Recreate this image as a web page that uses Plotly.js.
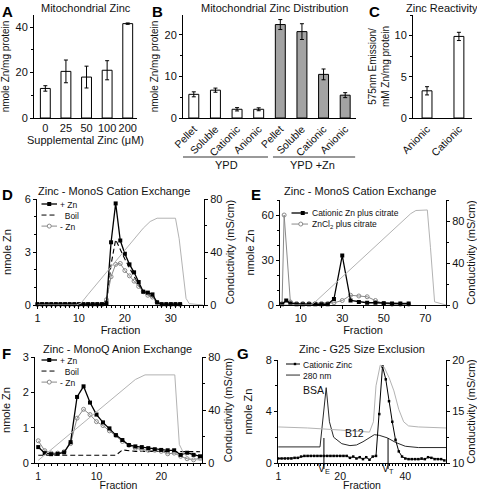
<!DOCTYPE html>
<html><head><meta charset="utf-8">
<script src="https://cdn.plot.ly/plotly-3.0.1.min.js"></script>
<style>html,body{margin:0;padding:0;background:#fff;}#chart{width:477px;height:491px;}</style>
</head><body><div id="chart"></div>
<script>
// ================= DATA =================
// Panel A
const aCategories = ['0', '25', '50', '100', '200'];
const aZinc = [13, 20.5, 18, 21, 41.5];
const aZincErr = [1.2, 5, 4.8, 4.2, 0.3];

// Panel B
const bFractions = ['Pellet', 'Soluble', 'Cationic', 'Anionic'];
const bGroups = ['YPD', 'YPD +Zn'];
const bYPD = [5.7, 6.7, 2.1, 2.1];
const bYPDErr = [0.6, 0.5, 0.4, 0.35];
const bYPDZn = [22.5, 20.8, 10.5, 5.5];
const bYPDZnErr = [1.2, 1.9, 1.3, 0.6];

// Panel C
const cCategories = ['Anionic', 'Cationic'];
const cReactivity = [3.3, 9.9];
const cReactivityErr = [0.5, 0.5];

// Panel D (MonoS cation exchange)
const dFraction = [1,2,3,4,5,6,7,8,9,10,11,12,13,14,15,16,17,18,19,20,21,22,23,24,25,26,27,28,29,30,31,32];
const dPlusZn  = [0.05,0.05,0.05,0.05,0.05,0.05,0.05,0.05,0.05,0.05,0.05,0.05,0.05,0.05,0.05,0.1,3.55,5.75,3.65,2.9,2.3,1.85,1.3,0.75,0.7,0.6,0.15,0.05,0.05,0.05,0.05,0.05];
const dBoil    = [0,0,0,0,0,0,0,0,0,0,0,0,0,0,0,0.05,2.3,3.7,3.1,2.6,2.1,1.6,1.15,0.75,0.55,0.45,0.1,0.02,0,0,0,0];
const dMinusZn = [0.03,0.03,0.03,0.03,0.03,0.03,0.03,0.03,0.03,0.03,0.03,0.03,0.03,0.03,0.03,0.3,1.6,2.3,2.35,1.95,1.65,1.35,1.05,0.75,0.55,0.45,0.15,0.03,0.03,0.03,0.03,0.03];
const dCondFraction = [1, 9.5, 10.5, 12, 24, 25.5, 27, 31, 31.8, 33.3, 34, 37];
const dConductivity = [0, 0, 1.5, 8, 58, 63, 65.5, 65.5, 50, 5, 1, 0];

// Panel E (MonoS, citrate)
const eFraction = [1,3,5,8,11,14,17,20,23,26,30,34,38,42,46,50,54,58,62];
const eCationicCitrate = [0.5,3,1,0.5,0.5,0.5,0.5,0.5,0.5,4,33,3,2,1.5,1.5,1.2,1,1,1];
const eZnClFraction = [1,2,5,8,11,14,17,20,23,26,30,34,38,42,46,50,54,58,62];
const eZnClCitrate = [1,60,2,1,1,1,1,1,1,1.5,3,6.5,6,5.5,3,1,0.5,0.5,0.5];
const eCondFraction = [0, 15, 17, 63, 65.5, 71, 72.5, 74.5, 80];
const eConductivity = [0, 0, 3, 87, 90, 90.5, 55, 3, 0];

// Panel F (MonoQ anion exchange)
const fFraction = [1,2,3,4,5,6,7,8,9,10,11,12,13,14,15,16,17,18,19,20,21,22,23,24,25,26];
const fPlusZn  = [0.45,0.28,0.25,0.26,0.3,0.59,1.87,2.17,1.71,1.37,1.15,0.98,0.79,0.65,0.51,0.47,0.45,0.42,0.39,0.37,0.36,0.36,0.23,0.29,0.23,0.19];
const fBoil    = [0.22,0.22,0.22,0.22,0.22,0.22,0.22,0.22,0.22,0.22,0.22,0.22,0.22,0.37,0.34,0.33,0.33,0.33,0.33,0.33,0.33,0.33,0.33,0.33,0.33,0.32];
const fMinusZn = [0.63,0.35,0.28,0.28,0.32,0.55,1.27,1.52,1.37,1.17,1.06,0.91,0.78,0.61,0.5,0.42,0.38,0.36,0.36,0.33,0.26,0.28,0.19,0.12,0.09,0.14];
const fCondFraction = [1, 14, 16, 17.5, 22.1, 22.8, 23.5, 24.5, 26.3];
const fConductivity = [2, 55, 63, 66.5, 66.5, 14, 7, 3, 2];

// Panel G (G25 size exclusion)
const gFraction = [1,2,3,4,5,6,7,8,9,10,11,12,13,14,15,16,17,18,19,20,21,22,23,24,25,26,27,28,29,30,31,32,33,34,35,36,37,38,39,40,41,42,43,44,45,46,47,48,49,50,51,52];
const gCationicZinc = [0.35,0.35,0.35,0.35,0.35,0.4,0.4,0.5,0.55,0.55,0.55,0.55,0.55,0.55,0.55,0.55,0.55,0.55,0.55,0.55,0.55,0.55,0.4,0.5,0.35,0.45,0.3,0.45,0.25,0.5,0.55,3.8,7.5,6.5,4.8,3.2,1.8,0.9,0.5,0.35,0.3,0.3,0.3,0.3,0.35,0.3,0.45,0.4,0.3,0.3,0.3,0.2];
const gAbsFraction = [1, 13.8, 15.7, 16.7, 18, 20.5, 23, 25, 27, 29, 30.5, 32, 34.5, 37, 40, 44, 52.5];
const gAbs280 = [1.25, 1.25, 5.85, 3.2, 2.0, 1.5, 1.35, 1.4, 1.65, 2.0, 2.2, 2.15, 1.95, 1.6, 1.3, 1.2, 1.2];
const gCondFraction = [1, 10, 20, 29, 30.2, 31, 32.3, 33.5, 35, 36.5, 38, 39.5, 41, 44, 52.5];
const gConductivity = [13.5, 13.4, 13.2, 13.0, 14, 17.5, 19.5, 19.3, 18.3, 17, 15.2, 14, 13.6, 13.5, 13.4];
const gVolumeMarks = [15, 34.7];
const gVolumeLabels = ['V<sub>E</sub>', 'V<sub>T</sub>'];
const gStandards = ['BSA', 'B12'];
const gStandardFraction = [11.8, 24.3];
const gStandardValue = [5.7, 2.35];

// ================= LAYOUT HELPERS =================
const W = 477, H = 491;
const px = v => v / W;
const py = v => 1 - v / H;
const FONT = '"Liberation Sans", Arial, sans-serif';
const BLACK = '#000';
const GREY = '#8a8a8a';
const LIGHT = '#b3b3b3';
const NB = '\u00A0';

function axis(extra) {
  return Object.assign({
    showgrid: false, zeroline: false, showline: true, linecolor: BLACK, linewidth: 1,
    ticks: 'outside', ticklen: 3, tickcolor: BLACK, tickwidth: 1,
    tickfont: {family: FONT, size: 11, color: '#111'}, fixedrange: true
  }, extra);
}
function ttl(text, standoff, size) {
  return {text: text, standoff: standoff, font: {family: FONT, size: size || 11, color: '#111'}};
}
function minor(d) { return {dtick: d, ticks: 'outside', ticklen: 2, tickcolor: BLACK}; }

const traces = [];
// A
traces.push({type: 'bar', x: aCategories, y: aZinc, xaxis: 'x', yaxis: 'y', width: 0.48,
  marker: {color: '#fff', line: {color: BLACK, width: 1}},
  error_y: {type: 'data', array: aZincErr, color: BLACK, thickness: 1, width: 2}});
// B
traces.push({type: 'bar', x: bYPD.map((_, i) => i), y: bYPD, xaxis: 'x2', yaxis: 'y2', width: 0.46,
  marker: {color: '#fff', line: {color: BLACK, width: 1}},
  error_y: {type: 'data', array: bYPDErr, color: BLACK, thickness: 1, width: 2}});
traces.push({type: 'bar', x: bYPDZn.map((_, i) => i + bYPD.length), y: bYPDZn, xaxis: 'x2', yaxis: 'y2', width: 0.46,
  marker: {color: '#a3a3a3', line: {color: BLACK, width: 1}},
  error_y: {type: 'data', array: bYPDZnErr, color: BLACK, thickness: 1, width: 2}});
// C
traces.push({type: 'bar', x: cCategories, y: cReactivity, xaxis: 'x3', yaxis: 'y3', width: 0.31,
  marker: {color: '#fff', line: {color: BLACK, width: 1}},
  error_y: {type: 'data', array: cReactivityErr, color: BLACK, thickness: 1, width: 2}});

function lineTrace(x, y, xa, ya, kind) {
  const t = {type: 'scatter', x: x, y: y, xaxis: xa, yaxis: ya, cliponaxis: false};
  if (kind === 'plus') { t.mode = 'lines+markers'; t.line = {color: BLACK, width: 1.3}; t.marker = {symbol: 'square', size: 4, color: BLACK}; }
  if (kind === 'boil') { t.mode = 'lines'; t.line = {color: BLACK, width: 1.1, dash: '5px,3px'}; }
  if (kind === 'minus') { t.mode = 'lines+markers'; t.line = {color: GREY, width: 1}; t.marker = {symbol: 'circle-open', size: 4, color: GREY, line: {width: 1, color: GREY}}; }
  if (kind === 'cond') { t.mode = 'lines'; t.line = {color: LIGHT, width: 1}; }
  if (kind === 'dot') { t.mode = 'lines+markers'; t.line = {color: BLACK, width: 1}; t.marker = {symbol: 'square', size: 2.5, color: BLACK}; }
  if (kind === 'abs') { t.mode = 'lines'; t.line = {color: '#2a2a2a', width: 1}; }
  return t;
}
// D
traces.push(lineTrace(dCondFraction, dConductivity, 'x4', 'y5', 'cond'));
traces.push(lineTrace(dFraction, dBoil, 'x4', 'y4', 'boil'));
traces.push(lineTrace(dFraction, dMinusZn, 'x4', 'y4', 'minus'));
traces.push(lineTrace(dFraction, dPlusZn, 'x4', 'y4', 'plus'));
// E
traces.push(lineTrace(eCondFraction, eConductivity, 'x5', 'y7', 'cond'));
traces.push(lineTrace(eZnClFraction, eZnClCitrate, 'x5', 'y6', 'minus'));
traces.push(lineTrace(eFraction, eCationicCitrate, 'x5', 'y6', 'plus'));
// F
traces.push(lineTrace(fCondFraction, fConductivity, 'x6', 'y9', 'cond'));
traces.push(lineTrace(fFraction, fBoil, 'x6', 'y8', 'boil'));
traces.push(lineTrace(fFraction, fMinusZn, 'x6', 'y8', 'minus'));
traces.push(lineTrace(fFraction, fPlusZn, 'x6', 'y8', 'plus'));
// G
traces.push(lineTrace(gCondFraction, gConductivity, 'x7', 'y11', 'cond'));
traces.push(lineTrace(gAbsFraction, gAbs280, 'x7', 'y10', 'abs'));
traces.push(lineTrace(gFraction, gCationicZinc, 'x7', 'y10', 'dot'));

const smallTick = {family: FONT, size: 10.5, color: '#111'};
const layout = {
  width: W, height: H, margin: {l: 0, r: 0, t: 0, b: 0}, paper_bgcolor: '#fff', plot_bgcolor: 'rgba(0,0,0,0)',
  showlegend: false, barmode: 'overlay', font: {family: FONT, size: 11, color: '#111'},
  // A
  xaxis: axis({domain: [px(34), px(137)], anchor: 'y', type: 'category', range: [-0.55, 4.45], ticks: '', tickangle: 0,
    title: ttl('Supplemental Zinc (μM)', 2)}),
  yaxis: axis({domain: [py(118), py(15)], anchor: 'x', range: [0, 45.3], dtick: 20, minor: minor(10),
    title: ttl('nmole Zn/mg protein', 4, 10)}),
  // B
  xaxis2: axis({domain: [px(183), px(356)], anchor: 'y2', range: [-0.5, 7.5], ticks: '', tickangle: -45, tickfont: smallTick,
    tickvals: bFractions.concat(bFractions).map((_, i) => i), ticktext: bFractions.concat(bFractions)}),
  yaxis2: axis({domain: [py(118), py(15)], anchor: 'x2', range: [0, 24.8], dtick: 10, minor: minor(5),
    title: ttl('nmole Zn/mg protein', 4, 10)}),
  // C
  xaxis3: axis({domain: [px(413), px(472)], anchor: 'y3', type: 'category', range: [-0.44, 1.41], ticks: '', tickangle: -45, tickfont: smallTick}),
  yaxis3: axis({domain: [py(118), py(15)], anchor: 'x3', range: [0, 12.5], dtick: 5, minor: minor(2.5),
    title: ttl('575nm Emission/<br>mM Zn/mg protein', 3, 10)}),
  // D
  xaxis4: axis({domain: [px(37), px(204)], anchor: 'y4', range: [0.9, 37.2], tickvals: [1, 10, 20, 30], minor: minor(1),
    title: ttl('Fraction', 1)}),
  yaxis4: axis({domain: [py(305), py(199)], anchor: 'x4', range: [0, 6], tickvals: [0, 3, 6], minor: minor(1),
    title: ttl('nmole Zn', 10)}),
  yaxis5: axis({overlaying: 'y4', anchor: 'x4', side: 'right', range: [0, 80], tickvals: [0, 40, 80], minor: minor(20),
    title: ttl('Conductivity (mS/cm)', 4)}),
  // E
  xaxis5: axis({domain: [px(280), px(446)], anchor: 'y6', range: [0, 80], tickvals: [10, 30, 50, 70], minor: minor(10),
    title: ttl('Fraction', 1)}),
  yaxis6: axis({domain: [py(305), py(200)], anchor: 'x5', range: [0, 70], tickvals: [0, 30, 60], minor: minor(10),
    title: ttl('nmole Zn', 4)}),
  yaxis7: axis({overlaying: 'y6', anchor: 'x5', side: 'right', range: [0, 100], tickvals: [0, 40, 80], minor: minor(20),
    title: ttl('Conductivity (mS/cm)', 4)}),
  // F
  xaxis6: axis({domain: [px(35), px(202)], anchor: 'y8', range: [0.5, 26.3], tickvals: [1, 10, 20], minor: minor(1),
    tickfont: smallTick, title: ttl('Fraction', 0, 10.5)}),
  yaxis8: axis({domain: [py(463), py(357)], anchor: 'x6', range: [0, 3], dtick: 1,
    title: ttl('nmole Zn', 10)}),
  yaxis9: axis({overlaying: 'y8', anchor: 'x6', side: 'right', range: [0, 80], tickvals: [0, 40, 80], minor: minor(20),
    title: ttl('Conductivity (mS/cm)', 4)}),
  // G
  xaxis7: axis({domain: [px(278), px(446)], anchor: 'y10', range: [0.9, 52.5], tickvals: [1, 20, 40], minor: minor(1),
    tickfont: smallTick, title: ttl('Fraction', 0, 10.5)}),
  yaxis10: axis({domain: [py(463), py(360)], anchor: 'x7', range: [0, 8], tickvals: [0, 4, 8], minor: minor(2),
    title: ttl('nmole Zn', 10)}),
  yaxis11: axis({overlaying: 'y10', anchor: 'x7', side: 'right', range: [10, 20], tickvals: [10, 15, 20], minor: minor(2.5),
    title: ttl('Conductivity (mS/cm)', 4)}),
  annotations: [], shapes: []
};

const ann = layout.annotations, shp = layout.shapes;
function textAt(text, xPx, yPx, opts) {
  ann.push(Object.assign({text: text, xref: 'paper', yref: 'paper', x: px(xPx), y: py(yPx), showarrow: false,
    xanchor: 'center', yanchor: 'middle', font: {family: FONT, size: 11, color: '#111'}}, opts || {}));
}
// panel letters
[['A', 0, 1], ['B', 150, 1], ['C', 367, 1], ['D', 0, 184], ['E', 249, 184], ['F', 0, 343], ['G', 235, 343]].forEach(p =>
  textAt('<b>' + p[0] + '</b>', p[1], p[2], {xanchor: 'left', yanchor: 'top', font: {family: FONT, size: 15, color: '#000'}}));
// panel titles
textAt('Mitochondrial Zinc', 86, 8);
textAt('Mitochondrial Zinc Distribution', 274, 8);
textAt('Zinc Reactivity', 442, 8);
textAt('Zinc - MonoS Cation Exchange', 114, 191);
textAt('Zinc - MonoS Cation Exchange', 360, 191);
textAt('Zinc - MonoQ Anion Exchange', 117, 349);
textAt('Zinc - G25 Size Exclusion', 362, 349);

// B group underlines and labels
shp.push({type: 'line', xref: 'x2', yref: 'paper', x0: -0.5, x1: bYPD.length - 0.57, y0: py(157), y1: py(157), line: {color: '#999', width: 2}});
shp.push({type: 'line', xref: 'x2', yref: 'paper', x0: bYPD.length - 0.34, x1: bYPD.length + bYPDZn.length - 0.54, y0: py(157), y1: py(157), line: {color: '#999', width: 2}});
ann.push({text: bGroups[0], xref: 'x2', yref: 'paper', x: (bYPD.length - 1) / 2, y: py(165), showarrow: false, font: {family: FONT, size: 11, color: '#111'}});
ann.push({text: bGroups[1], xref: 'x2', yref: 'paper', x: bYPD.length + (bYPDZn.length - 1) / 2, y: py(165), showarrow: false, font: {family: FONT, size: 11, color: '#111'}});

// G standards and volume markers
gStandards.forEach((s, i) => ann.push({text: s, xref: 'x7', yref: 'y10', x: gStandardFraction[i], y: gStandardValue[i], showarrow: false,
  font: {family: FONT, size: 10.5, color: '#111'}}));
gVolumeMarks.forEach((v, i) => {
  shp.push({type: 'line', xref: 'x7', yref: 'paper', x0: v, x1: v, y0: py(438), y1: py(469), line: {color: BLACK, width: 1}});
  ann.push({text: gVolumeLabels[i], xref: 'x7', yref: 'paper', x: v, y: py(478), showarrow: false, font: {family: FONT, size: 10.5, color: '#111'}});
});

// legends: one multi-line text block per panel, with line/marker samples beside each row
const LEG_FS = 8.5, LEG_LH = LEG_FS * 1.3;
function legend(items, xLine0, xLine1, xText, firstRow) {
  const rows = items.map((_, i) => firstRow + i * LEG_LH);
  items.forEach((it, i) => {
    const y = py(rows[i]);
    const col = (it.kind === 'minus') ? GREY : (it.kind === 'abs' ? '#2a2a2a' : BLACK);
    shp.push({type: 'line', xref: 'paper', yref: 'paper', x0: px(xLine0), x1: px(xLine1), y0: y, y1: y,
      line: {color: col, width: it.kind === 'plus' ? 1.3 : 1, dash: it.kind === 'boil' ? '5px,3px' : 'solid'}});
    const mx = (xLine0 + xLine1) / 2 + (it.mshift || 0);
    const ms = it.kind === 'dot' ? 1.2 : 2;
    if (it.kind === 'plus' || it.kind === 'dot') {
      shp.push({type: 'rect', xref: 'paper', yref: 'paper', x0: px(mx - ms), x1: px(mx + ms), y0: py(rows[i] + ms), y1: py(rows[i] - ms), fillcolor: BLACK, line: {width: 0}});
    } else if (it.kind === 'minus') {
      shp.push({type: 'circle', xref: 'paper', yref: 'paper', x0: px(mx - 2), x1: px(mx + 2), y0: py(rows[i] + 2), y1: py(rows[i] - 2), fillcolor: '#fff', line: {color: GREY, width: 1}});
    }
  });
  const center = firstRow + (items.length - 1) * LEG_LH / 2 + 0.5;
  textAt(items.map(it => it.name).join('<br>'), xText, center, {xanchor: 'left', align: 'left', borderpad: 0,
    font: {family: FONT, size: LEG_FS, color: '#111'}});
}
legend([{name: '+ Zn', kind: 'plus'}, {name: NB + NB + 'Boil', kind: 'boil'}, {name: '- Zn', kind: 'minus'}], 41.5, 57, 59, 204);
legend([{name: 'Cationic Zn plus citrate', kind: 'plus', mshift: 3}, {name: 'ZnCl<sub>2</sub> plus citrate', kind: 'minus', mshift: 1}], 291.5, 308, 310.5, 213);
legend([{name: '+ Zn', kind: 'plus'}, {name: NB + NB + 'Boil', kind: 'boil'}, {name: '- Zn', kind: 'minus'}], 41.5, 57, 59, 360);
legend([{name: 'Cationic Zinc', kind: 'dot', mshift: 2}, {name: '280 nm', kind: 'abs'}], 286, 300, 302, 364);

Plotly.newPlot('chart', traces, layout, {staticPlot: true, displayModeBar: false});
</script></body></html>
